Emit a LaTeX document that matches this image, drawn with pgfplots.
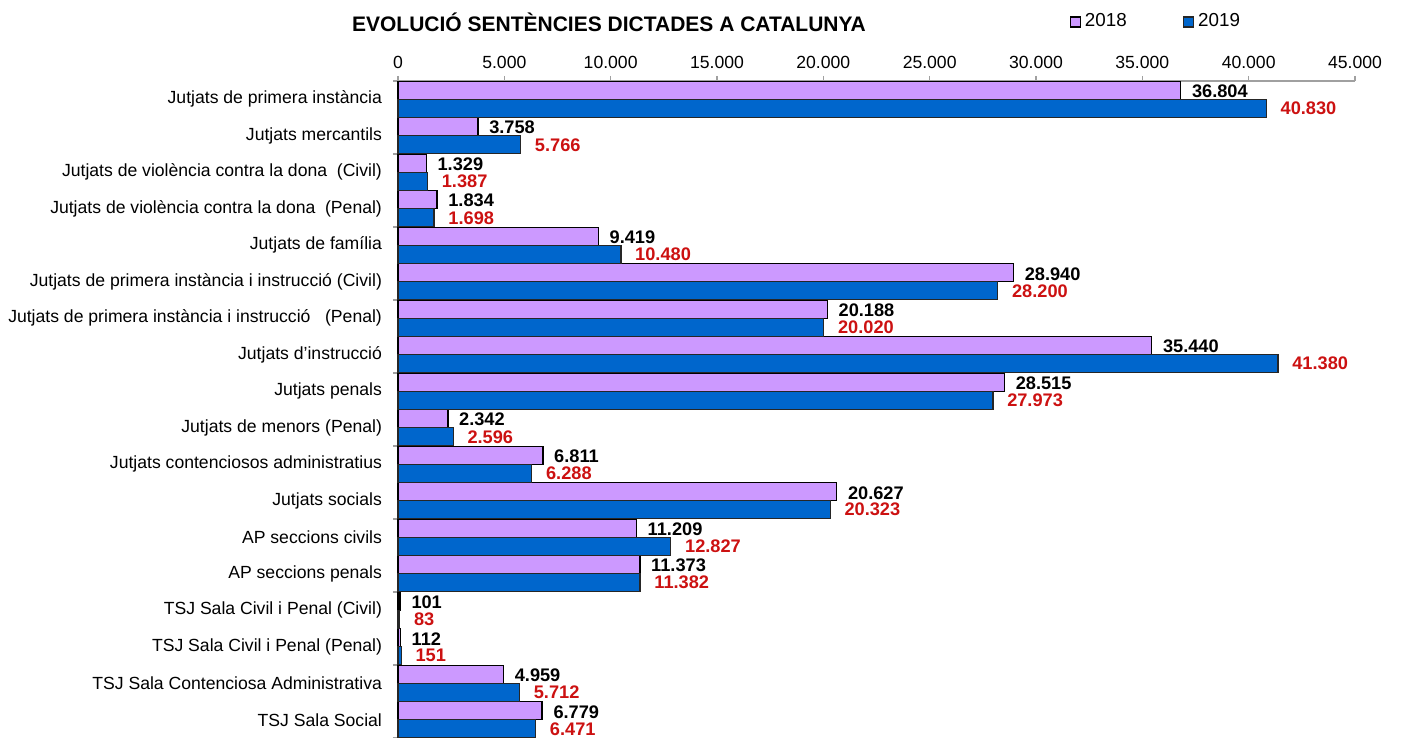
\documentclass[border=0pt]{standalone}
\usepackage{pgfplots}
\pgfplotsset{compat=1.18}
\usepackage{pgfplotstable}
\usepackage{fontspec}
\setmainfont{Liberation Sans}
\definecolor{c18}{HTML}{CC99FF}
\definecolor{c19}{HTML}{0066CC}
\definecolor{lab19}{HTML}{CC1111}
\definecolor{axgray}{HTML}{A0A0A0}
\pgfplotsset{sqlegend/.style={legend image code/.code={\draw[##1] (0pt,-2.5pt) rectangle (5pt,2.5pt);}}}

\pgfplotstableread{
y v18 v19
17 36804 40830
16 3758 5766
15 1329 1387
14 1834 1698
13 9419 10480
12 28940 28200
11 20188 20020
10 35440 41380
9 28515 27973
8 2342 2596
7 6811 6288
6 20627 20323
5 11209 12827
4 11373 11382
3 101 83
2 112 151
1 4959 5712
0 6779 6471
}\data

\begin{document}
\begin{tikzpicture}
\begin{axis}[
  name=ax,
  width=478.5pt, height=328.5pt, scale only axis,
  xbar, bar width=9pt,
  xmin=0, xmax=45000, ymin=-0.5, ymax=17.5,
  clip=false,
  axis x line*=top, axis y line*=left,
  axis line style={axgray, line width=0.7pt},
  tick align=outside,
  major tick length=2.5pt,
  xtick={0,5000,...,45000},
  scaled x ticks=false,
  xtick style={axgray, line width=0.7pt},
  xticklabel style={font=\fontsize{8.8}{10}\selectfont, /pgf/number format/.cd, fixed, 1000 sep={.}, assume math mode=true},
  ytick={0,...,17},
  yticklabels={TSJ Sala Social, TSJ Sala Contenciosa Administrativa, TSJ Sala Civil i Penal (Penal), TSJ Sala Civil i Penal (Civil), AP seccions penals, AP seccions civils, Jutjats socials, Jutjats contenciosos administratius, Jutjats de menors (Penal), Jutjats penals, Jutjats d’instrucció, Jutjats de primera instància i instrucció\ \ \ (Penal), Jutjats de primera instància i instrucció (Civil), Jutjats de família, Jutjats de violència contra la dona\ \ (Penal), Jutjats de violència contra la dona\ \ (Civil), Jutjats mercantils, Jutjats de primera instància\ },
  ytick style={draw=none},
  yticklabel style={font=\fontsize{8.8}{10}\selectfont, xshift=-2pt},
  extra y ticks={-0.5,1.5,3.5,5.5,7.5,9.5,11.5,13.5,15.5,17.5},
  extra y tick labels={},
  extra y tick style={ytick style={draw=axgray, line width=0.7pt}},
  legend style={draw=none, fill=none, font=\fontsize{9.4}{11}\selectfont,
    at={(0.695,1.09)}, anchor=west, legend columns=2,
    /tikz/every even column/.append style={column sep=26pt}},
]
\addplot[fill=c18, draw=black, line width=0.7pt, bar shift=4.5pt, point meta=x, sqlegend,
  nodes near coords={\pgfmathprintnumber[fixed,precision=0,1000 sep={.},assume math mode=true]{\pgfplotspointmeta}},
  nodes near coords style={anchor=west, black, font=\bfseries\fontsize{9.1}{10}\selectfont, xshift=2pt, yshift=-0.5pt}]
  table[x=v18, y=y] {\data};
\addlegendentry{2018}
\addplot[fill=c19, draw=black!85, line width=0.7pt, bar shift=-4.5pt, point meta=x, sqlegend,
  nodes near coords={\pgfmathprintnumber[fixed,precision=0,1000 sep={.},assume math mode=true]{\pgfplotspointmeta}},
  nodes near coords style={anchor=west, lab19, font=\bfseries\fontsize{9.1}{10}\selectfont, xshift=3.5pt, yshift=0pt}]
  table[x=v19, y=y] {\data};
\addlegendentry{2019}
\end{axis}
\node[anchor=base, font=\bfseries\fontsize{10.5}{12}\selectfont] at ([xshift=105.5pt, yshift=353pt]ax.south west) {EVOLUCIÓ SENTÈNCIES DICTADES A CATALUNYA};
\pgfresetboundingbox
\path (ax.south west) ++(-199pt,0pt) rectangle ++(701pt,369pt);
\end{tikzpicture}
\end{document}
